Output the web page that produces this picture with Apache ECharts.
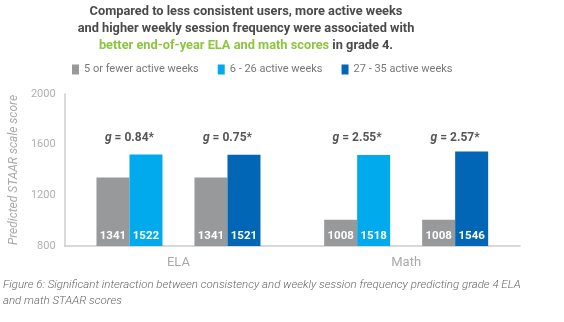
<!DOCTYPE html>
<html><head><meta charset="utf-8">
<script src="https://cdn.jsdelivr.net/npm/echarts@6/dist/echarts.min.js"></script>
<style>html,body{margin:0;padding:0;background:#fff}#c{width:564px;height:322px}</style>
</head><body><div id="c"></div>
<script>
const categories = ['ELA', 'Math'];
const lowWeeks = [1341, 1008];
const midWeeks = [1522, 1518];
const highWeeks = [1521, 1546];
const gMid = ['0.84', '2.55'];
const gHigh = ['0.75', '2.57'];
const seriesNames = ['5 or fewer active weeks', '6 - 26 active weeks', '27 - 35 active weeks'];
const yMin = 800, yMax = 2000, yStep = 400;

const FONT = 'Roboto, "Noto Sans", sans-serif';
const C_GRAY = '#98999b', C_LB = '#00aaec', C_DB = '#0066b5';
const G_LEVEL = 1655;

const valueLabel = {show: true, position: 'insideBottom', distance: 4, color: '#fff', fontWeight: 'bold', fontSize: 11.5, fontFamily: FONT};
function gMarks(vals, shift) {
  return {
    symbol: 'rect', symbolSize: 1, silent: true,
    itemStyle: {color: 'rgba(0,0,0,0)'},
    label: {show: true, position: 'inside', offset: [shift, 0],
      formatter: p => '{i|g}{b| = ' + p.value + '*}',
      rich: {i: {fontStyle: 'italic', fontWeight: 'bold', fontSize: 12, color: '#555', fontFamily: FONT},
             b: {fontWeight: 'bold', fontSize: 12, color: '#555', fontFamily: FONT}}},
    data: categories.map((c, i) => ({coord: [i, G_LEVEL], value: vals[i]}))
  };
}
const bar = (name, data, color, extra) => Object.assign({
  type: 'bar', name, data, barWidth: 33, barGap: '0%', itemStyle: {color}, label: valueLabel, emphasis: {disabled: true}
}, extra || {});

const chart = echarts.init(document.getElementById('c'), null, {renderer: 'canvas'});
chart.setOption({
  animation: false,
  textStyle: {fontFamily: FONT},
  title: [{
    text: '{a|Compared to less consistent users, more active weeks}\n{a|and higher weekly session frequency were associated with}\n{g|better end-of-year ELA and math scores}{a| in grade 4.}',
    left: 241, top: -2, textAlign: 'center',
    textStyle: {rich: {
      a: {fontSize: 12.8, fontWeight: 'bold', color: '#4a4a4a', lineHeight: 17, align: 'center', fontFamily: FONT},
      g: {fontSize: 12.8, fontWeight: 'bold', color: '#8cc63f', lineHeight: 17, align: 'center', fontFamily: FONT}
    }}
  }, {
    text: 'Figure 6: Significant interaction between consistency and weekly session frequency predicting grade 4 ELA\nand math STAAR scores',
    left: 3, top: 277, padding: 0,
    textStyle: {fontSize: 11.5, fontStyle: 'italic', fontWeight: 300, color: '#666', lineHeight: 16, fontFamily: FONT}
  }],
  legend: {
    data: seriesNames, left: 72, top: 64, padding: 0, icon: 'rect', itemWidth: 7, itemHeight: 10, itemGap: 19,
    textStyle: {color: '#777', fontSize: 11, fontFamily: FONT}, selectedMode: false
  },
  grid: {left: 62, right: 44, top: 94, bottom: 76},
  xAxis: {
    type: 'category', data: categories,
    axisLine: {lineStyle: {color: '#ccc', width: 1.5}}, axisTick: {show: false},
    axisLabel: {color: '#aaa', fontSize: 13, margin: 10, fontFamily: FONT}
  },
  yAxis: {
    type: 'value', min: yMin, max: yMax, interval: yStep,
    name: 'Predicted STAAR scale score', nameLocation: 'middle', nameGap: 41,
    nameTextStyle: {fontStyle: 'italic', color: '#aaa', fontSize: 12, fontFamily: FONT},
    axisLine: {show: true, lineStyle: {color: '#ccc', width: 1.5}}, axisTick: {show: false}, splitLine: {show: false},
    axisLabel: {color: '#b0b0b0', fontSize: 11, margin: 9, fontFamily: FONT, formatter: v => String(v)}
  },
  series: [
    bar(seriesNames[0], lowWeeks, C_GRAY),
    bar(seriesNames[1], midWeeks, C_LB, {markPoint: gMarks(gMid, -16.5)}),
    {type: 'bar', name: 'spacer', data: [], barWidth: 32, barGap: '0%', silent: true},
    bar(seriesNames[0], lowWeeks, C_GRAY),
    bar(seriesNames[2], highWeeks, C_DB, {markPoint: gMarks(gHigh, -16.5)})
  ]
});
</script></body></html>
